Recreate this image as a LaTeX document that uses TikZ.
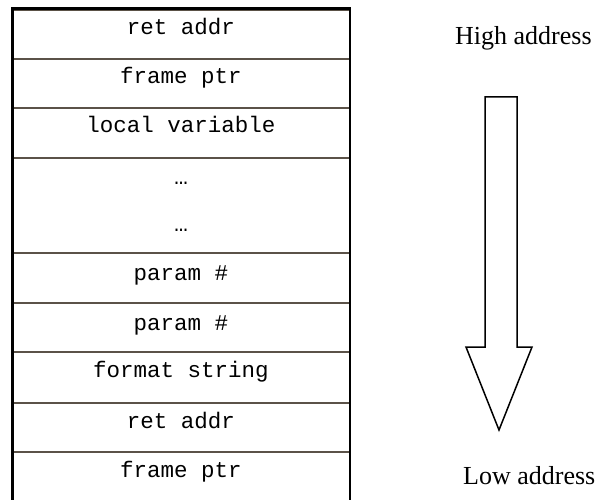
\documentclass[tikz,border=0pt]{standalone}
\usepackage{fontspec}
\setmainfont{Liberation Serif}
\newfontfamily\monofont{Liberation Mono}
\definecolor{sepcol}{HTML}{5B5248}
\begin{document}
\begin{tikzpicture}[x=1pt,y=-1pt,
  cell/.style={font=\monofont\fontsize{22.5}{26}\selectfont, anchor=base, inner sep=0pt},
  side/.style={font=\fontsize{26}{30}\selectfont, anchor=base west, inner sep=0pt},
  sepline/.style={draw=sepcol, line width=2.5pt},
  border/.style={draw=black, line width=2.5pt},
  bigarrow/.style={draw=black, line width=1.5pt, line join=miter, fill=white}]
\useasboundingbox (0,0) rectangle (595,500);
% row separators
\foreach \y in {10,59,108,158,253,303,352,403,452}
  \draw[sepline] (12.5,\y) -- (350,\y);
% outer border
\draw[border] (12.5,505) -- (12.5,8.5) -- (350,8.5) -- (350,505);
% cell texts
\node[cell] (r1) at (181,35) {ret addr};
\node[cell] (r2) at (181,84) {frame ptr};
\node[cell] (r3) at (181,133) {local variable};
\node[cell] (d1) at (181,185) {…};
\node[cell] (d2) at (181,232) {…};
\node[cell] (r5) at (181,280) {param \#};
\node[cell] (r6) at (181,330) {param \#};
\node[cell] (r7) at (181,377) {format string};
\node[cell] (r8) at (181,428) {ret addr};
\node[cell] (r9) at (181,477) {frame ptr};
% side labels
\node[side] (high) at (455,45) {High address};
\node[side] (low) at (463,484) {Low address};
% big hollow arrow
\draw[bigarrow] (485,97) -- (517,97) -- (517,347) -- (532,347) -- (499,430) -- (466,347) -- (485,347) -- cycle;
\end{tikzpicture}
\end{document}
